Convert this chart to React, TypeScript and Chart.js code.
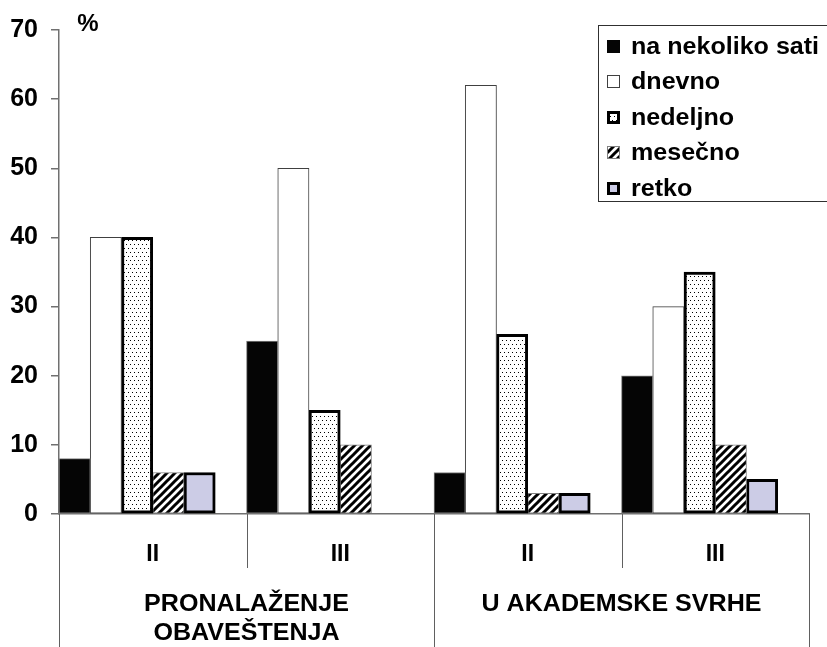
import React, { useEffect, useRef } from "react";
import { Chart, registerables } from "chart.js";

Chart.register(...registerables);

const categories = ["II", "III", "II", "III"];
const groupLabels = [["PRONALAŽENJE", "OBAVEŠTENJA"], ["U AKADEMSKE SVRHE"]];
const seriesNames = ["na nekoliko sati", "dnevno", "nedeljno", "mesečno", "retko"];
const naNekolikoSati = [8, 25, 6, 20];
const dnevno = [40, 50, 62, 30];
const nedeljno = [40, 15, 26, 35];
const mesecno = [6, 10, 3, 10];
const retko: (number | null)[] = [6, null, 3, 5];
const yMin = 0;
const yMax = 70;
const yStep = 10;
const unitLabel = "%";

const FONT = '"Liberation Sans", Arial, sans-serif';
const STRETCH = 1.09;

function makeDotPattern(ctx: CanvasRenderingContext2D) {
  const c = document.createElement("canvas");
  c.width = 4;
  c.height = 8;
  const p = c.getContext("2d")!;
  p.fillStyle = "#ffffff";
  p.fillRect(0, 0, 4, 8);
  p.fillStyle = "#000000";
  p.fillRect(0, 0, 1, 1);
  p.fillRect(2, 4, 1, 1);
  return ctx.createPattern(c, "repeat")!;
}

function makeHatchPattern(ctx: CanvasRenderingContext2D) {
  const c = document.createElement("canvas");
  c.width = 8;
  c.height = 8;
  const p = c.getContext("2d")!;
  p.fillStyle = "#ffffff";
  p.fillRect(0, 0, 8, 8);
  p.strokeStyle = "#000000";
  p.lineWidth = 3;
  p.lineCap = "square";
  p.beginPath();
  p.moveTo(-2, 10);
  p.lineTo(10, -2);
  p.moveTo(-6, 6);
  p.lineTo(6, -6);
  p.moveTo(2, 14);
  p.lineTo(14, 2);
  p.stroke();
  return ctx.createPattern(c, "repeat")!;
}

function stretchedText(
  ctx: CanvasRenderingContext2D,
  text: string,
  x: number,
  y: number,
  align: CanvasTextAlign,
  sx: number
) {
  ctx.save();
  ctx.translate(x, y);
  ctx.scale(sx, 1);
  ctx.textAlign = align;
  ctx.fillText(text, 0, 0);
  ctx.restore();
}

export default function App() {
  const ref = useRef<HTMLCanvasElement | null>(null);

  useEffect(() => {
    const canvas = ref.current!;
    const ctx0 = canvas.getContext("2d")!;
    const dots = makeDotPattern(ctx0);
    const hatch = makeHatchPattern(ctx0);

    const styles = [
      { bg: "#050505", border: "#808080", bw: 1 },
      { bg: "#ffffff", border: "#404040", bw: 1 },
      { bg: dots, border: "#000000", bw: 3 },
      { bg: hatch, border: "#808080", bw: 1 },
      { bg: "#CCCCE6", border: "#000000", bw: 3 },
    ];
    const values = [naNekolikoSati, dnevno, nedeljno, mesecno, retko];

    const datasets: any[] = values.map((d, i) => ({
      label: seriesNames[i],
      data: d,
      backgroundColor: styles[i].bg,
      borderColor: styles[i].border,
      borderWidth: styles[i].bw,
      borderSkipped: false,
      categoryPercentage: 1,
      barPercentage: 1,
    }));
    // empty slot that leaves the gap at the right of each category
    datasets.push({
      label: "",
      data: categories.map(() => null),
      backgroundColor: "rgba(0,0,0,0)",
      categoryPercentage: 1,
      barPercentage: 1,
    });

    const overlay = {
      id: "overlay",
      afterDraw(chart: any) {
        const ctx: CanvasRenderingContext2D = chart.ctx;
        const xs = chart.scales.x;
        const area = chart.chartArea;
        const bottom = chart.height;
        ctx.save();
        // category table lines
        ctx.strokeStyle = "#606060";
        ctx.lineWidth = 1;
        for (let k = 0; k <= categories.length; k++) {
          const x = Math.round(xs.getPixelForValue(k - 0.5)) + 0.5;
          const outer = k % 2 === 0;
          ctx.beginPath();
          ctx.moveTo(x, area.bottom);
          ctx.lineTo(x, outer ? bottom : area.bottom + 54);
          ctx.stroke();
        }
        // category labels
        ctx.fillStyle = "#000000";
        ctx.font = `bold 23px ${FONT}`;
        ctx.textBaseline = "alphabetic";
        categories.forEach((c, i) => {
          stretchedText(ctx, c, xs.getPixelForValue(i), area.bottom + 47, "center", 1);
        });
        // group labels
        groupLabels.forEach((lines, g) => {
          const x0 = xs.getPixelForValue(g * 2 - 0.5);
          const x1 = xs.getPixelForValue(g * 2 + 1.5);
          const cx = (x0 + x1) / 2;
          lines.forEach((t, li) => {
            stretchedText(ctx, t, cx, area.bottom + 97 + li * 28.5, "center", STRETCH);
          });
        });
        // unit label
        ctx.font = `bold 24px ${FONT}`;
        stretchedText(ctx, unitLabel, 88, 31, "center", 1);

        // legend
        const lx = 598.5;
        const ly = 25.5;
        ctx.fillStyle = "#ffffff";
        ctx.fillRect(lx, ly, 240, 176);
        ctx.strokeStyle = "#303030";
        ctx.lineWidth = 1;
        ctx.strokeRect(lx, ly, 240, 176);
        seriesNames.forEach((name, i) => {
          const cy = 46.5 + i * 35.4;
          const st = styles[i];
          const mx = 607;
          const my = Math.round(cy - 6.5);
          const s = 13;
          ctx.fillStyle = st.border as string;
          ctx.fillRect(mx, my, s, s);
          ctx.fillStyle = st.bg as any;
          const bw = i === 0 ? 0 : st.bw;
          ctx.fillRect(mx + bw, my + bw, s - 2 * bw, s - 2 * bw);
          ctx.fillStyle = "#000000";
          ctx.font = `bold 23px ${FONT}`;
          stretchedText(ctx, name, 631, cy + 7.5, "left", STRETCH);
        });
        ctx.restore();
      },
    };

    const chart = new Chart(canvas, {
      type: "bar",
      data: { labels: categories, datasets },
      options: {
        animation: false,
        responsive: false,
        maintainAspectRatio: false,
        layout: { padding: { top: 30, right: 18, left: 0, bottom: 0 } },
        plugins: {
          legend: { display: false },
          tooltip: { enabled: false },
        },
        scales: {
          x: {
            type: "category",
            offset: true,
            ticks: { display: false },
            grid: { display: false },
            border: { display: true, color: "#707070", width: 1.5 },
            afterFit: (scale: any) => {
              scale.height = 133;
            },
          },
          y: {
            min: yMin,
            max: yMax,
            ticks: {
              stepSize: yStep,
              padding: 13,
              color: "#000000",
              font: { family: FONT, size: 25, weight: "bold" },
            },
            grid: {
              drawOnChartArea: false,
              drawTicks: true,
              tickLength: 8,
              color: "#707070",
              lineWidth: 1.5,
            },
            border: { display: true, color: "#707070", width: 1.5 },
            afterFit: (scale: any) => {
              scale.width = 59;
            },
          },
        },
      },
      plugins: [overlay],
    });

    return () => chart.destroy();
  }, []);

  return (
    <div style={{ position: "fixed", left: 0, top: 0, width: 827, height: 647, background: "#fff" }}>
      <canvas ref={ref} width={827} height={647} style={{ display: "block" }} />
    </div>
  );
}
